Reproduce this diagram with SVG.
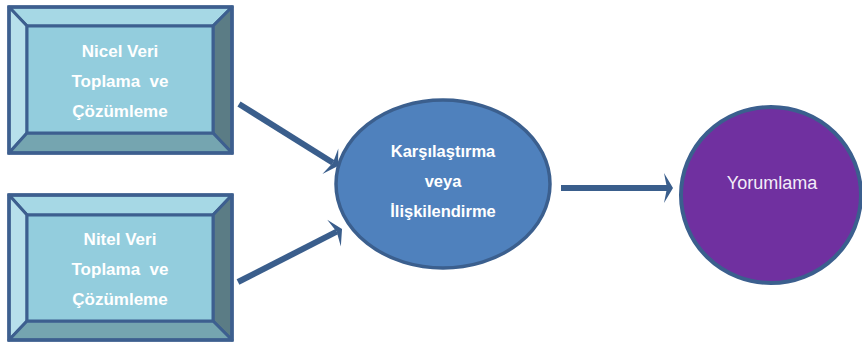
<svg xmlns="http://www.w3.org/2000/svg" width="862" height="344" viewBox="0 0 862 344">
  <style>
    .edge { stroke: #3d5f8f; stroke-width: 3; stroke-linejoin: round; }
    .bt { fill: #a6d8e5; }
    .bl { fill: #b7e0eb; }
    .br { fill: #5b7c85; }
    .bb { fill: #75a5b0; }
    .face { fill: #93cddd; }
    .lbl { font-family: "Liberation Sans", Arial, sans-serif; font-weight: bold; font-size: 17px; fill: #ffffff; text-anchor: middle; }
    .lbl2 { font-family: "Liberation Sans", Arial, sans-serif; font-weight: bold; font-size: 16.5px; fill: #ffffff; text-anchor: middle; }
    .lbl3 { font-family: "Liberation Sans", Arial, sans-serif; font-size: 18px; fill: #f3ecf8; text-anchor: middle; }
    .conn { stroke: #3a5e8c; stroke-width: 6; fill: none; marker-end: url(#head); }
  </style>
  <defs>
    <marker id="head" markerUnits="userSpaceOnUse" markerWidth="20" markerHeight="34" viewBox="-5 -17 20 34" refX="0" refY="0" orient="auto">
      <path d="M6,0 L-3,-15 L0,0 L-3,15 Z" fill="#3a5e8c"/>
    </marker>
  </defs>

  <g id="nicel">
    <polygon class="bt edge" points="9,7 232,7 213,26 27,26"/>
    <polygon class="bl edge" points="9,7 27,26 27,133 9,153"/>
    <polygon class="br edge" points="232,7 232,153 213,133 213,26"/>
    <polygon class="bb edge" points="9,153 27,133 213,133 232,153"/>
    <rect class="face edge" x="27" y="26" width="186" height="107"/>
    <rect x="9" y="7" width="223" height="146" fill="none" stroke="#3d5f8f" stroke-width="3.5"/>
    <text class="lbl" x="120" y="57">Nicel Veri</text>
    <text class="lbl" x="120" y="87" xml:space="preserve">Toplama  ve</text>
    <text class="lbl" x="120" y="117">Çözümleme</text>
  </g>

  <g id="nitel">
    <polygon class="bt edge" points="9,195 232,195 213,215 27,215"/>
    <polygon class="bl edge" points="9,195 27,215 27,321 9,340"/>
    <polygon class="br edge" points="232,195 232,340 213,321 213,215"/>
    <polygon class="bb edge" points="9,340 27,321 213,321 232,340"/>
    <rect class="face edge" x="27" y="215" width="186" height="106"/>
    <rect x="9" y="195" width="223" height="145" fill="none" stroke="#3d5f8f" stroke-width="3.5"/>
    <text class="lbl" x="120" y="245">Nitel Veri</text>
    <text class="lbl" x="120" y="275" xml:space="preserve">Toplama  ve</text>
    <text class="lbl" x="120" y="305">Çözümleme</text>
  </g>

  <g id="karsilastirma">
    <ellipse cx="443" cy="184" rx="107" ry="84" fill="#4f81bd" stroke="#3b5f8e" stroke-width="3.5"/>
    <text class="lbl2" x="443" y="157">Karşılaştırma</text>
    <text class="lbl2" x="443" y="187">veya</text>
    <text class="lbl2" x="443" y="217">İlişkilendirme</text>
  </g>

  <g id="yorumlama">
    <ellipse cx="771" cy="195" rx="90" ry="88" fill="#7030a0" stroke="#3b5f8e" stroke-width="4"/>
    <text class="lbl3" x="772" y="189">Yorumlama</text>
  </g>

  <g id="connectors">
    <path class="conn" d="M239,104 L332.9,162.8"/>
    <path class="conn" d="M238,282 L336.7,231.7"/>
    <path class="conn" d="M561,188 L667,188"/>
  </g>
</svg>
